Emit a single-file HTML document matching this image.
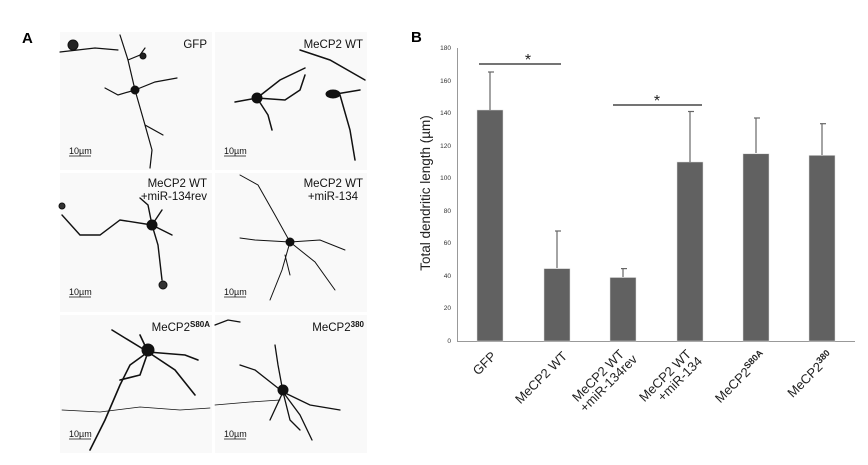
<!DOCTYPE html>
<html><head><meta charset="utf-8"><style>
html,body{margin:0;padding:0;background:#fff;width:868px;height:465px;overflow:hidden}
svg{display:block;font-family:"Liberation Sans",Arial,sans-serif}
</style></head><body>
<svg width="868" height="465" viewBox="0 0 868 465" xmlns="http://www.w3.org/2000/svg">
<rect width="868" height="465" fill="#fff"/>
<!-- Panel A -->
<text x="22" y="43" font-size="15" font-weight="bold">A</text>
<g fill="#f9f9f9">
<rect x="60" y="32" width="152" height="138"/><rect x="215" y="32" width="152" height="138"/>
<rect x="60" y="173" width="152" height="139"/><rect x="215" y="173" width="152" height="139"/>
<rect x="60" y="315" width="152" height="138"/><rect x="215" y="315" width="152" height="138"/>
</g>
<g stroke="#111" fill="none" stroke-linecap="round">
<!-- p1 -->
<g stroke-width="1.2"><path d="M135 90 L128 60 L120 35"/><path d="M135 90 L145 125 L152 150 L150 168"/><path d="M135 90 L155 82 L177 78"/><path d="M135 90 L118 95 L105 88"/><path d="M145 125 L163 135"/><path d="M128 60 L140 55 L145 48"/><path d="M60 52 L95 48 L118 50"/></g>
<circle cx="135" cy="90" r="4" fill="#111"/><circle cx="73" cy="45" r="5" fill="#222"/><circle cx="143" cy="56" r="3" fill="#222"/>
<!-- p2 -->
<g stroke-width="1.5"><path d="M257 98 L280 80 L305 68"/><path d="M257 98 L235 102"/><path d="M257 98 L268 115 L272 130"/><path d="M257 98 L285 100 L300 90 L305 75"/><path d="M330 95 L360 90"/><path d="M340 95 L350 130 L355 160"/><path d="M300 50 L330 60 L365 80"/></g>
<circle cx="257" cy="98" r="5" fill="#111"/><ellipse cx="333" cy="94" rx="7" ry="4" fill="#111"/>
<!-- p3 -->
<g stroke-width="1.4"><path d="M152 225 L120 220 L100 235 L80 235 L62 215"/><path d="M152 225 L158 245 L162 280"/><path d="M152 225 L172 235"/><path d="M152 225 L148 205 L140 198"/><path d="M152 225 L162 210"/></g>
<circle cx="152" cy="225" r="5" fill="#111"/><circle cx="62" cy="206" r="3" fill="#333"/><circle cx="163" cy="285" r="4" fill="#333"/>
<!-- p4 -->
<g stroke-width="1"><path d="M290 242 L275 215 L258 185 L240 175"/><path d="M290 242 L255 240 L240 238"/><path d="M290 242 L315 262 L335 290"/><path d="M290 242 L320 240 L345 250"/><path d="M290 242 L282 270 L270 300"/><path d="M285 255 L290 275"/></g>
<circle cx="290" cy="242" r="4" fill="#111"/>
<!-- p5 -->
<g stroke-width="1.6"><path d="M148 352 L130 365 L120 385 L105 420 L90 450"/><path d="M148 352 L175 370 L195 395"/><path d="M148 352 L125 338 L112 330"/><path d="M148 352 L140 335"/><path d="M148 352 L185 355 L198 360"/><path d="M148 352 L140 375 L120 380"/></g>
<path d="M62 410 L100 412 L140 407 L180 410 L210 408" stroke-width="0.8"/>
<circle cx="148" cy="350" r="6" fill="#111"/>
<!-- p6 -->
<g stroke-width="1.3"><path d="M283 392 L278 365 L275 345"/><path d="M283 392 L255 370 L240 365"/><path d="M283 392 L300 415 L312 440"/><path d="M283 392 L310 405 L340 410"/><path d="M283 392 L270 420"/><path d="M283 392 L290 420 L300 430"/><path d="M215 325 L228 320 L240 322"/></g>
<path d="M215 405 L250 402 L280 400" stroke-width="0.8"/>
<circle cx="283" cy="390" r="5" fill="#111"/>
</g>
<g font-size="11.5" fill="#111" text-anchor="end">
<text x="207" y="48">GFP</text><text x="363" y="48">MeCP2 WT</text>
<text x="207" y="187">MeCP2 WT</text><text x="207" y="200">+miR-134rev</text>
<text x="363" y="187">MeCP2 WT</text><text x="358" y="200">+miR-134</text>
<text x="210" y="331">MeCP2<tspan font-size="8" font-weight="bold" dy="-4">S80A</tspan></text>
<text x="364" y="331">MeCP2<tspan font-size="8" font-weight="bold" dy="-4">380</tspan></text>
</g>
<g font-size="9" fill="#111">
<text x="69" y="154">10µm</text><text x="224" y="154">10µm</text>
<text x="69" y="295">10µm</text><text x="224" y="295">10µm</text>
<text x="69" y="437">10µm</text><text x="224" y="437">10µm</text>
</g>
<g stroke="#111" stroke-width="0.8">
<line x1="69" y1="156" x2="91" y2="156"/><line x1="224" y1="156" x2="246" y2="156"/>
<line x1="69" y1="297" x2="91" y2="297"/><line x1="224" y1="297" x2="246" y2="297"/>
<line x1="69" y1="439" x2="91" y2="439"/><line x1="224" y1="439" x2="246" y2="439"/>
</g>
<!-- Panel B -->
<text x="411" y="42" font-size="15" font-weight="bold">B</text>
<g stroke="#999" stroke-width="1"><line x1="457.5" y1="48" x2="457.5" y2="341"/><line x1="457" y1="341.5" x2="855" y2="341.5"/></g>
<g font-size="6.5" fill="#333" text-anchor="end">
<text x="451" y="343">0</text><text x="451" y="310">20</text><text x="451" y="278">40</text><text x="451" y="245">60</text><text x="451" y="213">80</text><text x="451" y="180">100</text><text x="451" y="148">120</text><text x="451" y="115">140</text><text x="451" y="83">160</text><text x="451" y="50">180</text>
</g>
<text transform="translate(430,193) rotate(-90)" font-size="13.5" text-anchor="middle" fill="#222">Total dendritic length (µm)</text>
<g fill="#616161" stroke="#ddd" stroke-width="0.5">
<rect x="477" y="110" width="26" height="231"/>
<rect x="544" y="268.6" width="26" height="72.4"/>
<rect x="610" y="277.5" width="26" height="63.5"/>
<rect x="677" y="162" width="26" height="179"/>
<rect x="743" y="153.8" width="26" height="187.2"/>
<rect x="809" y="155.4" width="26" height="185.6"/>
</g>
<g stroke="#666" stroke-width="1.2">
<line x1="490" y1="110" x2="490" y2="72"/><line x1="488" y1="72" x2="494" y2="72"/>
<line x1="557" y1="268" x2="557" y2="231"/><line x1="555" y1="231" x2="561" y2="231"/>
<line x1="623" y1="277" x2="623" y2="268.6"/><line x1="621" y1="268.6" x2="627" y2="268.6"/>
<line x1="690" y1="162" x2="690" y2="111.5"/><line x1="688" y1="111.5" x2="694" y2="111.5"/>
<line x1="756" y1="153" x2="756" y2="118"/><line x1="754" y1="118" x2="760" y2="118"/>
<line x1="822" y1="155" x2="822" y2="123.7"/><line x1="820" y1="123.7" x2="826" y2="123.7"/>
</g>
<g stroke="#222" stroke-width="1.2"><line x1="479" y1="64" x2="561" y2="64"/><line x1="613" y1="105" x2="702" y2="105"/></g>
<g font-size="16" text-anchor="middle" fill="#222"><text x="528" y="65">*</text><text x="657" y="106">*</text></g>
<g font-size="13" fill="#222" text-anchor="end">
<text transform="translate(497,357) rotate(-45)">GFP</text>
<text transform="translate(568,357) rotate(-45)">MeCP2 WT</text>
<text transform="translate(625,355) rotate(-45)">MeCP2 WT</text>
<text transform="translate(638,360) rotate(-45)">+miR-134rev</text>
<text transform="translate(692,355) rotate(-45)">MeCP2 WT</text>
<text transform="translate(703,362) rotate(-45)">+miR-134</text>
<text transform="translate(767,357) rotate(-45)">MeCP2<tspan font-size="9" font-weight="bold" dy="-5">S80A</tspan></text>
<text transform="translate(834,357) rotate(-45)">MeCP2<tspan font-size="9" font-weight="bold" dy="-5">380</tspan></text>
</g>
</svg>
</body></html>
